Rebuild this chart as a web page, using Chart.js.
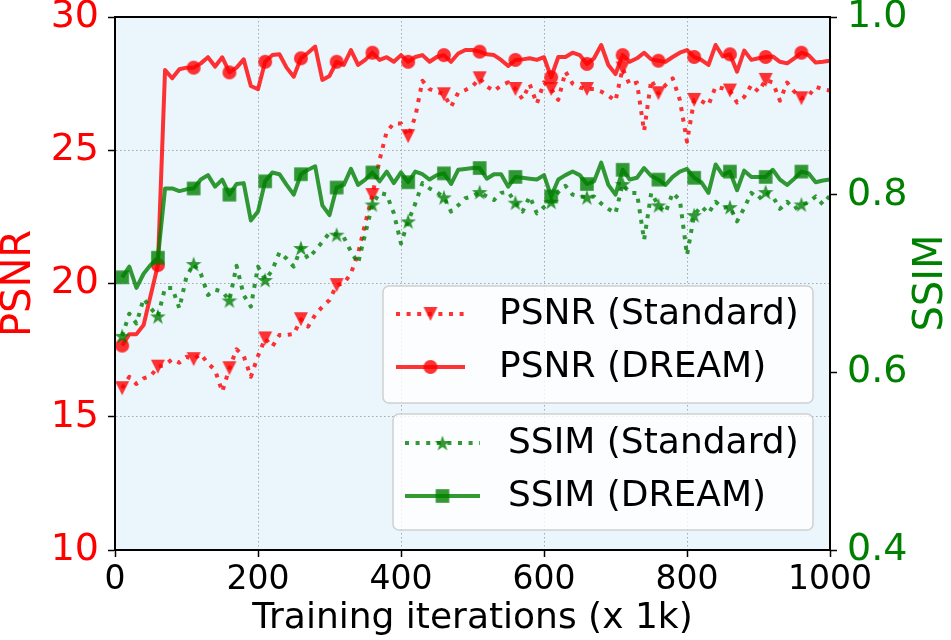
<!DOCTYPE html>
<html>
<head>
<meta charset="utf-8">
<script src="https://cdn.jsdelivr.net/npm/chart.js@4.4.1/dist/chart.umd.min.js"></script>
<style>
  html, body { margin: 0; padding: 0; background: #fff; }
</style>
</head>
<body>
<canvas id="chart" width="951" height="640"></canvas>
<script>
// training iterations (x 1k)
const iterations = [
  10, 20, 30, 40, 50, 60, 70, 80, 90, 100,
  110, 120, 130, 140, 150, 160, 170, 180, 190, 200,
  210, 220, 230, 240, 250, 260, 270, 280, 290, 300,
  310, 320, 330, 340, 350, 360, 370, 380, 390, 400,
  410, 420, 430, 440, 450, 460, 470, 480, 490, 500,
  510, 520, 530, 540, 550, 560, 570, 580, 590, 600,
  610, 620, 630, 640, 650, 660, 670, 680, 690, 700,
  710, 720, 730, 740, 750, 760, 770, 780, 790, 800,
  810, 820, 830, 840, 850, 860, 870, 880, 890, 900,
  910, 920, 930, 940, 950, 960, 970, 980, 990, 1000
];

const psnrStandard = [
  16.07, 16.50, 16.23, 16.44, 16.53, 16.88, 16.94, 17.16, 17.03, 17.25,
  17.16, 17.35, 17.00, 16.75, 15.94, 16.82, 17.53, 17.28, 16.50, 17.28,
  17.94, 17.63, 18.07, 18.07, 18.10, 18.66, 18.38, 18.82, 19.13, 19.38,
  19.94, 20.00, 20.38, 21.13, 22.26, 23.32, 24.63, 25.70, 26.01, 26.00,
  25.53, 26.26, 27.61, 27.29, 27.20, 27.10, 26.63, 27.16, 27.26, 27.40,
  27.70, 27.40, 27.22, 27.43, 27.55, 27.30, 26.92, 27.48, 26.75, 27.55,
  27.30, 26.89, 27.95, 27.50, 27.35, 27.30, 27.30, 27.20, 27.05, 26.85,
  28.07, 27.45, 27.54, 25.72, 27.64, 27.14, 27.45, 27.70, 26.89, 25.32,
  26.89, 26.85, 26.70, 27.38, 27.32, 27.24, 26.79, 27.00, 27.45, 27.20,
  27.64, 27.54, 26.86, 27.54, 27.20, 26.95, 27.05, 27.38, 27.29, 27.24
];

const psnrDream = [
  17.67, 18.10, 18.10, 18.44, 19.57, 20.69, 28.01, 27.70, 28.04, 28.10,
  28.10, 28.26, 28.49, 28.14, 28.49, 27.92, 28.10, 28.41, 27.41, 27.29,
  28.32, 28.57, 28.60, 28.10, 27.76, 28.45, 28.66, 28.89, 27.64, 27.79,
  28.32, 28.20, 28.76, 28.20, 28.39, 28.66, 28.39, 28.49, 28.32, 28.57,
  28.32, 28.50, 28.57, 28.32, 28.50, 28.57, 28.32, 28.63, 28.76, 28.76,
  28.70, 28.60, 28.57, 28.39, 28.16, 28.39, 28.41, 28.45, 28.39, 28.49,
  27.74, 28.50, 28.50, 28.66, 28.57, 28.24, 28.45, 28.95, 28.20, 27.86,
  28.57, 28.32, 28.45, 28.66, 28.41, 28.36, 28.32, 28.50, 28.66, 28.76,
  28.50, 28.39, 28.20, 28.95, 28.52, 28.60, 27.95, 28.74, 28.39, 28.45,
  28.50, 28.52, 28.32, 28.26, 28.45, 28.66, 28.57, 28.29, 28.32, 28.36
];

const ssimStandard = [
  0.641, 0.666, 0.655, 0.683, 0.672, 0.663, 0.695, 0.695, 0.672, 0.708,
  0.722, 0.711, 0.687, 0.693, 0.691, 0.681, 0.720, 0.687, 0.674, 0.719,
  0.704, 0.715, 0.735, 0.728, 0.719, 0.740, 0.728, 0.737, 0.747, 0.757,
  0.755, 0.752, 0.736, 0.723, 0.756, 0.789, 0.802, 0.800, 0.779, 0.745,
  0.770, 0.790, 0.813, 0.807, 0.803, 0.797, 0.781, 0.788, 0.796, 0.798,
  0.803, 0.798, 0.794, 0.802, 0.803, 0.791, 0.781, 0.798, 0.779, 0.786,
  0.792, 0.803, 0.810, 0.800, 0.798, 0.797, 0.798, 0.790, 0.784, 0.779,
  0.812, 0.802, 0.802, 0.749, 0.802, 0.788, 0.780, 0.802, 0.794, 0.732,
  0.777, 0.787, 0.779, 0.792, 0.785, 0.786, 0.770, 0.785, 0.802, 0.795,
  0.803, 0.798, 0.784, 0.792, 0.784, 0.789, 0.791, 0.798, 0.789, 0.799
];

const ssimDream = [
  0.707, 0.719, 0.695, 0.711, 0.721, 0.729, 0.807, 0.807, 0.804, 0.806,
  0.807, 0.817, 0.822, 0.809, 0.817, 0.800, 0.812, 0.813, 0.771, 0.781,
  0.815, 0.825, 0.823, 0.811, 0.800, 0.823, 0.828, 0.832, 0.788, 0.777,
  0.808, 0.811, 0.829, 0.811, 0.817, 0.825, 0.815, 0.826, 0.813, 0.825,
  0.814, 0.826, 0.823, 0.817, 0.822, 0.824, 0.812, 0.828, 0.829, 0.830,
  0.830, 0.818, 0.823, 0.823, 0.809, 0.820, 0.819, 0.818, 0.817, 0.822,
  0.798, 0.817, 0.822, 0.826, 0.822, 0.812, 0.815, 0.836, 0.811, 0.800,
  0.828, 0.817, 0.819, 0.830, 0.821, 0.817, 0.811, 0.820, 0.826, 0.829,
  0.819, 0.814, 0.802, 0.834, 0.822, 0.826, 0.805, 0.827, 0.820, 0.820,
  0.820, 0.828, 0.817, 0.811, 0.818, 0.826, 0.824, 0.814, 0.816, 0.817
];

const seriesNames = ['PSNR (Standard)', 'PSNR (DREAM)', 'SSIM (Standard)', 'SSIM (DREAM)'];
const xTicks = [0, 200, 400, 600, 800, 1000];
const psnrTicks = [10, 15, 20, 25, 30];
const ssimTicks = [0.4, 0.6, 0.8, 1.0];

const RED = 'rgba(255,0,0,0.8)';
const GREEN = 'rgba(0,128,0,0.8)';
const FONT = "'DejaVu Sans', sans-serif";

// filled marker images, matplotlib style
function marker(shape, color) {
  const c = document.createElement('canvas');
  c.width = 22; c.height = 22;
  const g = c.getContext('2d');
  g.fillStyle = color;
  g.beginPath();
  if (shape === 'circle') {
    g.arc(11, 11, 7, 0, Math.PI * 2);
  } else if (shape === 'square') {
    g.rect(4.2, 4.2, 13.6, 13.6);
  } else if (shape === 'tri') {
    g.moveTo(4, 4); g.lineTo(18, 4); g.lineTo(11, 18); g.closePath();
  } else if (shape === 'star') {
    for (let k = 0; k < 10; k++) {
      const r = k % 2 ? 3.2 : 8.3;
      const a = -Math.PI / 2 + k * Math.PI / 5;
      const px = 11 + r * Math.cos(a), py = 11.7 + r * Math.sin(a);
      k ? g.lineTo(px, py) : g.moveTo(px, py);
    }
    g.closePath();
  }
  g.fill();
  return c;
}

const markers = [marker('tri', RED), marker('circle', RED), marker('star', GREEN), marker('square', GREEN)];
const everyFifth = ctx => (ctx.dataIndex % 5 === 0 ? 6 : 0);
const toXY = vals => vals.map((v, i) => ({ x: iterations[i], y: v }));

function series(idx, vals, color, dotted, axis, order) {
  return {
    label: seriesNames[idx],
    data: toXY(vals),
    yAxisID: axis,
    order: order,
    borderColor: color,
    backgroundColor: color,
    borderWidth: 4,
    borderDash: dotted ? [4, 6.6] : [],
    borderJoinStyle: 'round',
    tension: 0,
    pointStyle: markers[idx],
    pointRadius: everyFifth,
    pointBorderWidth: 0
  };
}

const chromePlugin = {
  id: 'chrome',
  beforeDraw(chart) {
    const { ctx, chartArea: a } = chart;
    ctx.save();
    ctx.fillStyle = '#ebf5fc';
    ctx.fillRect(a.left, a.top, a.right - a.left, a.bottom - a.top);
    ctx.restore();
  },
  afterDatasetsDraw(chart) {
    const { ctx, chartArea: a } = chart;
    ctx.save();
    ctx.strokeStyle = '#000';
    ctx.lineWidth = 2;
    ctx.strokeRect(a.left, a.top, a.right - a.left, a.bottom - a.top);
    ctx.restore();
  },
  afterDraw(chart) {
    const ctx = chart.ctx;
    const ds = chart.data.datasets;
    ctx.save();
    // right axis title reads bottom to top
    ctx.translate(932, 283);
    ctx.rotate(-Math.PI / 2);
    ctx.fillStyle = 'green';
    ctx.font = '40px ' + FONT;
    ctx.textAlign = 'center';
    ctx.textBaseline = 'middle';
    ctx.fillText('SSIM', 0, 0);
    ctx.restore();

    const boxes = [
      { x: 383, y: 286, w: 430, h: 117, lx: 396, lw: 69, tx: 499, rows: [0, 1], ys: [314, 367] },
      { x: 393, y: 414, w: 420, h: 116, lx: 405, lw: 75, tx: 508, rows: [2, 3], ys: [443, 496] }
    ];
    boxes.forEach(b => {
      ctx.save();
      ctx.beginPath();
      ctx.roundRect(b.x, b.y, b.w, b.h, 6);
      ctx.fillStyle = 'rgba(255,255,255,0.8)';
      ctx.fill();
      ctx.strokeStyle = '#d0d0d0';
      ctx.lineWidth = 1.5;
      ctx.stroke();
      b.rows.forEach((di, r) => {
        const d = ds.find(s => s.label === seriesNames[di]);
        const y = b.ys[r];
        ctx.beginPath();
        ctx.setLineDash(d.borderDash);
        ctx.strokeStyle = d.borderColor;
        ctx.lineWidth = d.borderWidth;
        ctx.moveTo(b.lx, y);
        ctx.lineTo(b.lx + b.lw, y);
        ctx.stroke();
        ctx.setLineDash([]);
        const m = d.pointStyle;
        ctx.drawImage(m, b.lx + b.lw / 2 - m.width / 2, y - m.height / 2);
        ctx.fillStyle = '#000';
        ctx.font = '36px ' + FONT;
        ctx.textAlign = 'left';
        ctx.textBaseline = 'middle';
        ctx.fillText(d.label, b.tx, y + 1);
      });
      ctx.restore();
    });
  }
};

function fixBox(prop, size) {
  return scale => {
    scale[prop] = size;
    scale.paddingTop = 0; scale.paddingBottom = 0;
    scale.paddingLeft = 0; scale.paddingRight = 0;
  };
}

const gridCommon = {
  color: 'rgba(150,150,150,0.8)',
  lineWidth: 1,
  tickColor: '#000',
  tickLength: 7,
  tickWidth: 1.5,
  tickBorderDash: []
};

new Chart(document.getElementById('chart'), {
  type: 'line',
  data: {
    datasets: [
      series(0, psnrStandard, RED, true, 'y', 3),
      series(1, psnrDream, RED, false, 'y', 2),
      series(2, ssimStandard, GREEN, true, 'y1', 1),
      series(3, ssimDream, GREEN, false, 'y1', 0)
    ]
  },
  options: {
    responsive: false,
    animation: false,
    events: [],
    layout: { padding: { top: 17, left: 0, right: 0, bottom: 0 } },
    plugins: { legend: { display: false }, tooltip: { enabled: false } },
    scales: {
      x: {
        type: 'linear',
        min: 0, max: 1000,
        afterBuildTicks: s => { s.ticks = xTicks.map(v => ({ value: v })); },
        afterFit: fixBox('height', 90),
        grid: gridCommon,
        border: { display: true, color: '#000', width: 2, dash: [1.5, 2.5] },
        ticks: {
          color: '#000', font: { family: FONT, size: 33, lineHeight: 1 }, padding: 7, maxRotation: 0,
          callback: v => String(v)
        },
        title: {
          display: true, text: 'Training iterations (x 1k)', color: '#000',
          font: { family: FONT, size: 36, lineHeight: 1 }, padding: { top: 0, bottom: 3 }
        }
      },
      y: {
        position: 'left',
        min: 10, max: 30,
        afterBuildTicks: s => { s.ticks = psnrTicks.map(v => ({ value: v })); },
        afterFit: fixBox('width', 115),
        grid: gridCommon,
        border: { display: true, color: '#000', width: 2, dash: [1.5, 2.5] },
        ticks: { color: 'red', font: { family: FONT, size: 38, lineHeight: 1 }, padding: 9 },
        title: {
          display: true, text: 'PSNR', color: 'red',
          font: { family: FONT, size: 40, lineHeight: 1 }, padding: { top: 0, bottom: 0 }
        }
      },
      y1: {
        position: 'right',
        min: 0.4, max: 1.0,
        afterBuildTicks: s => { s.ticks = ssimTicks.map(v => ({ value: v })); },
        afterFit: fixBox('width', 121),
        grid: Object.assign({}, gridCommon, { drawOnChartArea: false }),
        border: { display: true, color: '#000', width: 2 },
        ticks: {
          color: 'green', font: { family: FONT, size: 38, lineHeight: 1 }, padding: 10,
          callback: v => v.toFixed(1)
        }
      }
    }
  },
  plugins: [chromePlugin]
});
</script>
</body>
</html>
